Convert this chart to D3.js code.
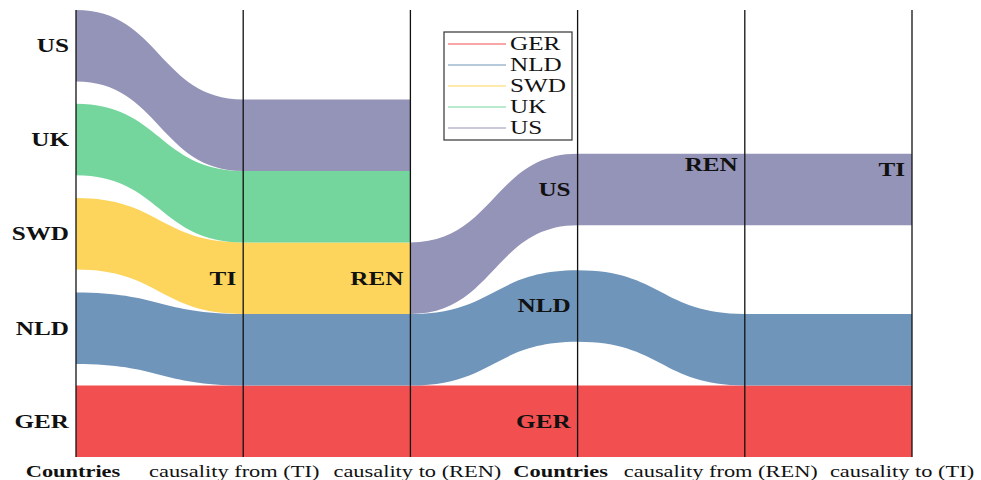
<!DOCTYPE html>
<html>
<head>
<meta charset="utf-8">
<script src="https://cdn.jsdelivr.net/npm/d3@7"></script>
<style>
  html, body { margin: 0; padding: 0; background: #fff; }
  svg { display: block; }
  text { font-family: "Liberation Serif", "Times New Roman", serif; fill: #111; }
</style>
</head>
<body>
<svg id="chart" width="981" height="480"></svg>
<script>
// ---- data ----
const countries = ["GER", "NLD", "SWD", "UK", "US"];
const axisNames = ["Countries", "causality from (TI)", "causality to (REN)",
                   "Countries", "causality from (REN)", "causality to (TI)"];
const nodeLabels = [null, "TI", "REN", null, "REN", "TI"];
// first diagram: axes 0..2, band bottom positions (band units)
const axesA = [0, 1, 2];
const flowCountriesA = ["GER", "NLD", "SWD", "UK", "US"];
const flowPosA = [
  [0, 0, 0],
  [1.30, 1, 1],
  [2.62, 2, 2],
  [3.94, 3, 3],
  [5.25, 4, 4]
];
// second diagram: axes 2..5
const axesB = [2, 3, 4, 5];
const flowCountriesB = ["GER", "NLD", "US"];
const flowPosB = [
  [0, 0, 0, 0],
  [1, 1.61, 1, 1],
  [2, 3.24, 3.24, 3.24]
];
const bandSize = 1;

// ---- layout ----
const svg = d3.select("#chart");
const x = d3.scalePoint().domain(d3.range(axisNames.length)).range([76, 912]);
const y = d3.scaleLinear().domain([0, 6.25]).range([457, 10]);
const color = d3.scaleOrdinal().domain(countries)
  .range(["#f24f50", "#7095ba", "#fdd55c", "#74d69c", "#9493b8"]);
const SX = 1.4; // horizontal text stretch of the original

const area = d3.area()
  .x(d => x(d.axis))
  .y0(d => y(d.pos))
  .y1(d => y(d.pos + bandSize))
  .curve(d3.curveBumpX);

function drawFlows(axes, names, pos) {
  const data = names.map((c, i) => ({
    country: c,
    pts: axes.map((a, j) => ({ axis: a, pos: pos[i][j] }))
  }));
  svg.append("g").selectAll("path").data(data).join("path")
    .attr("d", d => area(d.pts))
    .attr("fill", d => color(d.country));
  return data;
}
const dataA = drawFlows(axesA, flowCountriesA, flowPosA);
const dataB = drawFlows(axesB, flowCountriesB, flowPosB);

// axis lines
svg.append("g").selectAll("line").data(d3.range(axisNames.length)).join("line")
  .attr("x1", d => x(d)).attr("x2", d => x(d))
  .attr("y1", y(0)).attr("y2", y(6.25))
  .attr("stroke", "#111").attr("stroke-width", 1.3);

function label(g, tx, ty, txt, anchor, size, weight) {
  g.append("text")
    .attr("transform", `translate(${tx},${ty}) scale(${SX},1)`)
    .attr("text-anchor", anchor)
    .attr("dy", "0.35em")
    .attr("font-size", size)
    .attr("font-weight", weight)
    .text(txt);
}

const lg = svg.append("g");
// country labels on the "Countries" axes
[[0, dataA], [3, dataB]].forEach(([ax, data]) => {
  data.forEach(d => {
    const p = d.pts.find(q => q.axis === ax);
    label(lg, x(ax) - 7, y(p.pos + bandSize / 2), d.country, "end", 18, "bold");
  });
});
// node labels on the causality axes
const nodeDy = [0, 0, 0, 0, 11, 16];
nodeLabels.forEach((t, ax) => {
  if (!t) return;
  const data = ax <= 2 ? dataA : dataB;
  const vals = data.map(d => d.pts.find(q => q.axis === ax)).filter(Boolean);
  const lo = d3.min(vals, v => v.pos), hi = d3.max(vals, v => v.pos + bandSize);
  const yy = ax <= 2 ? (y(lo) + y(hi)) / 2 : y(hi) + nodeDy[ax];
  label(lg, x(ax) - 7, yy, t, "end", 18, "bold");
});

// bottom axis titles
const titleDx = [-3, -9, 7, -17, -24, -10];
axisNames.forEach((t, i) => {
  svg.append("text")
    .attr("transform", `translate(${x(i) + titleDx[i]},477) scale(${SX},1)`)
    .attr("text-anchor", "middle")
    .attr("font-size", 16)
    .attr("font-weight", t === "Countries" ? "bold" : "normal")
    .text(t);
});

// legend
const leg = svg.append("g");
leg.append("rect").attr("x", 444).attr("y", 32).attr("width", 128).attr("height", 108)
  .attr("fill", "#fff").attr("stroke", "#333").attr("stroke-width", 1.2);
const ly = d3.scalePoint().domain(countries).range([44, 128]);
countries.forEach(c => {
  leg.append("line").attr("x1", 448).attr("x2", 506)
    .attr("y1", ly(c)).attr("y2", ly(c))
    .attr("stroke", color(c)).attr("stroke-width", 1.2);
  label(leg, 510, ly(c), c, "start", 18, "normal");
});
</script>
</body>
</html>
